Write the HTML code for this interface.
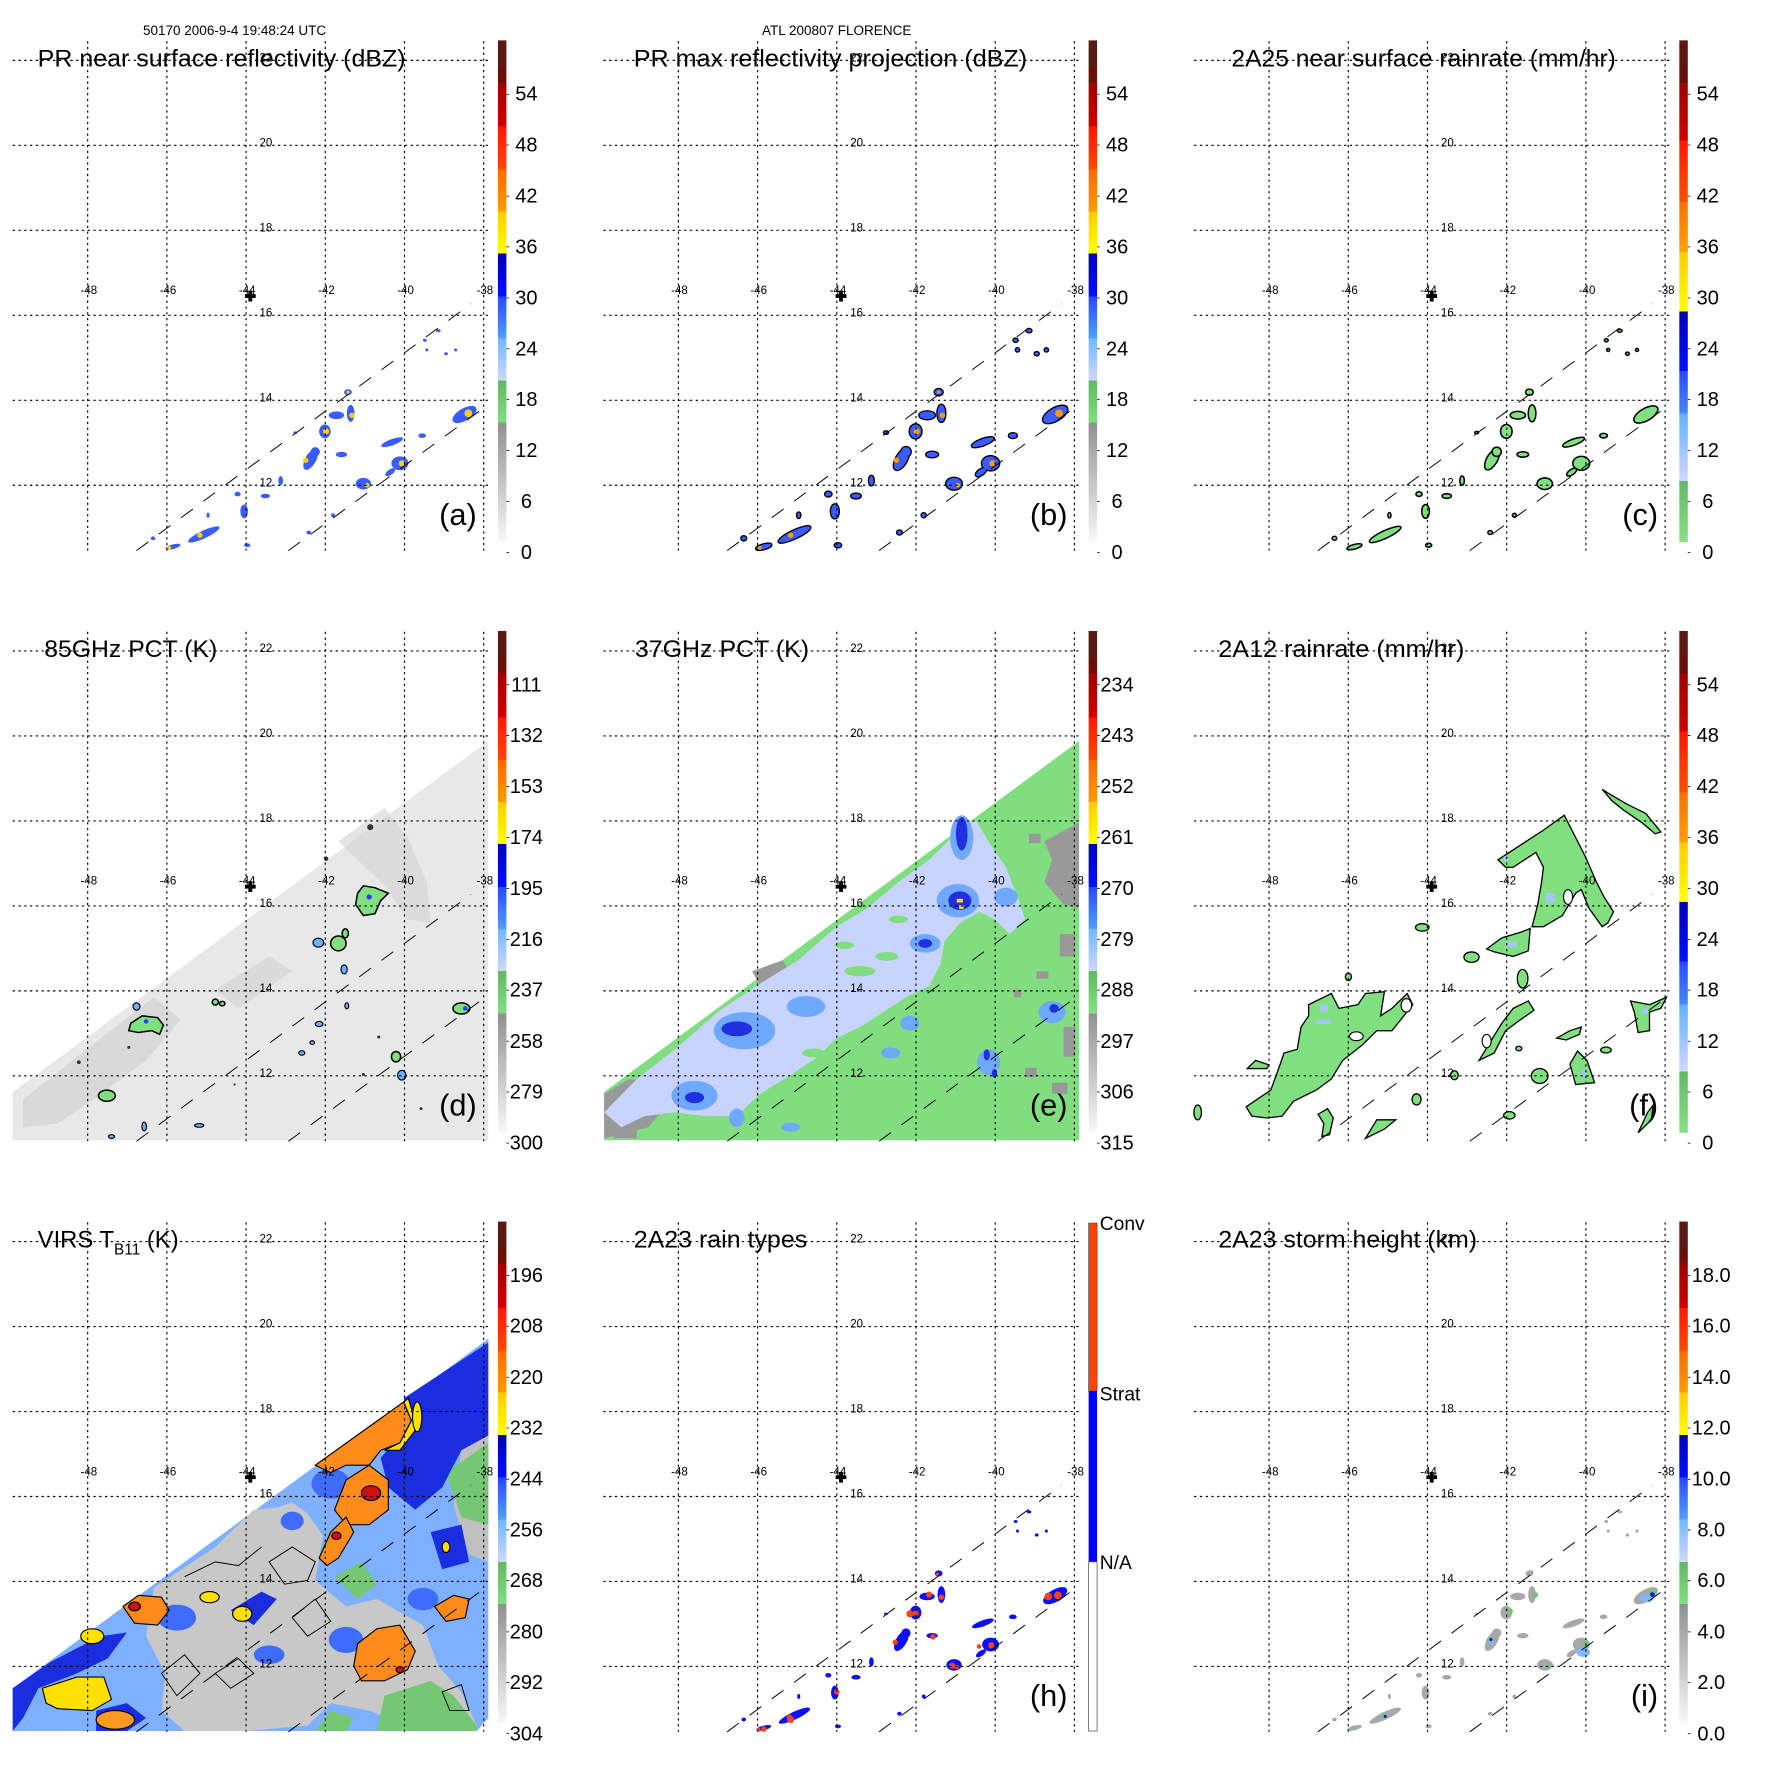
<!DOCTYPE html>
<html><head><meta charset="utf-8"><style>body{margin:0;background:#fff}svg{display:block}text{font-family:"Liberation Sans",Arial,sans-serif}</style></head><body>
<svg width="1771" height="1771" viewBox="0 0 1771 1771" xmlns="http://www.w3.org/2000/svg">
<defs>
<linearGradient id="gA" x1="0" y1="0" x2="0" y2="1">
<stop offset="0" stop-color="#5a1a14"/><stop offset=".054" stop-color="#5a1a14"/><stop offset=".054" stop-color="#6b1008"/><stop offset=".084" stop-color="#6b1008"/>
<stop offset=".084" stop-color="#a00000"/><stop offset=".172" stop-color="#d00000"/><stop offset=".172" stop-color="#ff1800"/><stop offset=".257" stop-color="#ff4800"/>
<stop offset=".257" stop-color="#ff6a00"/><stop offset=".341" stop-color="#ff9a00"/><stop offset=".341" stop-color="#ffcc00"/><stop offset=".425" stop-color="#ffff00"/>
<stop offset=".425" stop-color="#0000b8"/><stop offset=".51" stop-color="#0010ff"/><stop offset=".51" stop-color="#2848ff"/><stop offset=".594" stop-color="#50a0ff"/>
<stop offset=".594" stop-color="#70b8ff"/><stop offset=".678" stop-color="#d0d8ff"/><stop offset=".678" stop-color="#60b860"/><stop offset=".762" stop-color="#80e080"/>
<stop offset=".762" stop-color="#909090"/><stop offset="1" stop-color="#f8f8f8"/>
</linearGradient>
<linearGradient id="gC" x1="0" y1="0" x2="0" y2="1">
<stop offset="0" stop-color="#5a1a14"/><stop offset=".085" stop-color="#6b1008"/><stop offset=".085" stop-color="#a00000"/><stop offset=".2" stop-color="#d00000"/>
<stop offset=".2" stop-color="#ff1800"/><stop offset=".322" stop-color="#ff5000"/><stop offset=".322" stop-color="#ff7000"/><stop offset=".422" stop-color="#ffa000"/>
<stop offset=".422" stop-color="#ffcc00"/><stop offset=".54" stop-color="#ffff00"/><stop offset=".54" stop-color="#0000b8"/><stop offset=".659" stop-color="#0010ff"/>
<stop offset=".659" stop-color="#2848ff"/><stop offset=".744" stop-color="#4488ff"/><stop offset=".744" stop-color="#60b0ff"/><stop offset=".878" stop-color="#d0d8ff"/>
<stop offset=".878" stop-color="#60b860"/><stop offset="1" stop-color="#88e088"/>
</linearGradient>

<g id="grid" fill="none" stroke="#000">
 <g stroke-width="3" stroke-dasharray="6 9">
  <path d="M228 107V1432M434 107V1432M640 107V1432M846 107V1432M1052 107V1432M1258 107V1432"/>
  <path d="M33 157H1270M33 378H1270M33 599H1270M33 820H1270M33 1041H1270M33 1262H1270"/>
 </g>
 <path d="M355 1432L1225 790M750 1432L1270 1052" stroke-width="2.5" stroke-dasharray="38 34"/>
 <path d="M637 770h28M651 756v28" stroke-width="10"/>
 <g fill="#000" stroke="none" font-size="30">
  <text x="675" y="160">22</text><text x="675" y="381">20</text><text x="675" y="602">18</text>
  <text x="675" y="823">16</text><text x="675" y="1044">14</text><text x="675" y="1265">12</text>
  <g text-anchor="middle"><text x="231" y="765">-48</text><text x="437" y="765">-46</text><text x="643" y="765">-44</text>
  <text x="849" y="765">-42</text><text x="1055" y="765">-40</text><text x="1261" y="765">-38</text></g>
 </g>
</g>

<path id="ticks" d="M1317 245h7M1317 377h7M1317 510h7M1317 642h7M1317 775h7M1317 907h7M1317 1039h7M1317 1172h7M1317 1304h7M1317 1437h7" stroke="#000" stroke-width="2"/>

<g id="prc">
<ellipse cx="905" cy="1020" rx="10" ry="8"/>
<ellipse cx="875" cy="1080" rx="20" ry="10"/><ellipse cx="912" cy="1075" rx="10" ry="22"/>
<ellipse cx="845" cy="1122" rx="15" ry="18"/>
<ellipse cx="808" cy="1195" rx="14" ry="30" transform="rotate(30 808 1195)"/><ellipse cx="820" cy="1175" rx="12" ry="12"/>
<ellipse cx="888" cy="1182" rx="15" ry="7"/>
<ellipse cx="1020" cy="1150" rx="30" ry="8" transform="rotate(-20 1020 1150)"/>
<ellipse cx="1040" cy="1205" rx="22" ry="18"/><ellipse cx="1015" cy="1228" rx="15" ry="7" transform="rotate(-35 1015 1228)"/>
<ellipse cx="945" cy="1258" rx="20" ry="15"/>
<ellipse cx="1208" cy="1078" rx="35" ry="16" transform="rotate(-30 1208 1078)"/>
<ellipse cx="1098" cy="1133" rx="10" ry="6"/>
<ellipse cx="730" cy="1250" rx="6" ry="12"/>
<ellipse cx="690" cy="1290" rx="12" ry="6"/>
<ellipse cx="618" cy="1285" rx="8" ry="6"/><ellipse cx="635" cy="1330" rx="10" ry="18"/>
<ellipse cx="530" cy="1390" rx="45" ry="10" transform="rotate(-25 530 1390)"/>
<ellipse cx="450" cy="1422" rx="20" ry="6" transform="rotate(-15 450 1422)"/>
<ellipse cx="398" cy="1400" rx="6" ry="5"/><ellipse cx="643" cy="1418" rx="8" ry="5"/>
<ellipse cx="803" cy="1385" rx="6" ry="5"/><ellipse cx="866" cy="1340" rx="5" ry="5"/>
<ellipse cx="541" cy="1340" rx="4" ry="7"/><ellipse cx="768" cy="1125" rx="5" ry="3"/>
<ellipse cx="1105" cy="885" rx="5" ry="4"/><ellipse cx="1140" cy="860" rx="6" ry="4"/><ellipse cx="1160" cy="920" rx="5" ry="4"/><ellipse cx="1185" cy="910" rx="4" ry="4"/><ellipse cx="1110" cy="910" rx="4" ry="4"/>
</g>
<g id="prsp">
<circle cx="915" cy="1080" r="7"/><circle cx="848" cy="1122" r="8"/><circle cx="795" cy="1197" r="7"/><circle cx="1045" cy="1205" r="8"/>
<circle cx="1218" cy="1075" r="10"/><circle cx="955" cy="1262" r="6"/><circle cx="520" cy="1392" r="7"/><circle cx="440" cy="1425" r="5"/><circle cx="905" cy="1020" r="4"/>
</g>
</defs>

<text x="143" y="35" font-size="13.5">50170 2006-9-4 19:48:24 UTC</text>
<text x="762" y="35" font-size="13.5">ATL 200807 FLORENCE</text>

<!-- panel a -->
<g transform="scale(0.3845)">
 <use href="#prc" fill="#3a5cff"/>
 <use href="#prsp" fill="#ffd000"/>
 <use href="#grid"/>
 <rect x="1295" y="105" width="22" height="1305" fill="url(#gA)"/><use href="#ticks"/>
 <g font-size="52" text-anchor="middle"><text x="1369" y="262">54</text><text x="1369" y="394">48</text><text x="1369" y="527">42</text><text x="1369" y="659">36</text><text x="1369" y="792">30</text><text x="1369" y="924">24</text><text x="1369" y="1056">18</text><text x="1369" y="1189">12</text><text x="1369" y="1321">6</text><text x="1369" y="1454">0</text></g>
 <text x="98" y="173" font-size="62" textLength="957" lengthAdjust="spacingAndGlyphs">PR near surface reflectivity (dBZ)</text>
 <text x="1240" y="1365" font-size="80" text-anchor="end">(a)</text>
</g>

<!-- panel b -->
<g transform="translate(590.7,0) scale(0.3845)">
 <use href="#prc" fill="#3a5cff" stroke="#000" stroke-width="7"/>
 <use href="#prc" fill="#3a5cff"/>
 <use href="#prsp" fill="#ff9a00"/>
 <use href="#grid"/>
 <rect x="1295" y="105" width="22" height="1305" fill="url(#gA)"/><use href="#ticks"/>
 <g font-size="52" text-anchor="middle"><text x="1369" y="262">54</text><text x="1369" y="394">48</text><text x="1369" y="527">42</text><text x="1369" y="659">36</text><text x="1369" y="792">30</text><text x="1369" y="924">24</text><text x="1369" y="1056">18</text><text x="1369" y="1189">12</text><text x="1369" y="1321">6</text><text x="1369" y="1454">0</text></g>
 <text x="112" y="173" font-size="62" textLength="1023" lengthAdjust="spacingAndGlyphs">PR max reflectivity projection (dBZ)</text>
 <text x="1240" y="1365" font-size="80" text-anchor="end">(b)</text>
</g>

<!-- panel c -->
<g transform="translate(1181.4,0) scale(0.3845)">
 <use href="#prc" fill="#80e080" stroke="#000" stroke-width="4"/>
 <use href="#grid"/>
 <rect x="1295" y="105" width="22" height="1305" fill="url(#gC)"/><use href="#ticks"/>
 <g font-size="52" text-anchor="middle"><text x="1369" y="262">54</text><text x="1369" y="394">48</text><text x="1369" y="527">42</text><text x="1369" y="659">36</text><text x="1369" y="792">30</text><text x="1369" y="924">24</text><text x="1369" y="1056">18</text><text x="1369" y="1189">12</text><text x="1369" y="1321">6</text><text x="1369" y="1454">0</text></g>
 <text x="130" y="173" font-size="62" textLength="1000" lengthAdjust="spacingAndGlyphs">2A25 near surface rainrate (mm/hr)</text>
 <text x="1240" y="1365" font-size="80" text-anchor="end">(c)</text>
</g>

<!-- panel d -->
<g transform="translate(0,590.6) scale(0.3845)">
 <g transform="translate(0,24) scale(1,0.966)">
  <polygon points="33,1325 1270,380 1270,1455 33,1455" fill="#e8e8e8"/>
  <polygon points="60,1345 250,1190 400,1070 470,1130 380,1240 250,1340 150,1410 60,1420" fill="#cfcfcf" opacity=".6"/>
  <polygon points="880,650 1000,560 1060,640 1110,760 1120,870 1060,860 1000,770 950,720" fill="#d2d2d2" opacity=".6"/>
  <polygon points="560,1050 700,960 760,1000 620,1100" fill="#dadada"/>
  <g fill="#80e080" stroke="#000" stroke-width="4">
   <path d="M930,790 L945,770 975,775 1010,790 990,810 975,845 945,850 925,820 Z"/>
   <ellipse cx="880" cy="925" rx="20" ry="20"/><ellipse cx="898" cy="898" rx="8" ry="12"/>
   <path d="M340,1140 L370,1120 410,1125 425,1145 415,1170 395,1160 360,1165 335,1160 Z"/>
   <ellipse cx="278" cy="1335" rx="22" ry="15"/><ellipse cx="1030" cy="1230" rx="12" ry="14"/>
   <ellipse cx="1200" cy="1100" rx="22" ry="15"/><ellipse cx="560" cy="1083" rx="8" ry="8"/><ellipse cx="578" cy="1087" rx="7" ry="6"/>
  </g>
  <g fill="#6cb0ff" stroke="#000" stroke-width="3">
   <ellipse cx="828" cy="923" rx="14" ry="12"/><ellipse cx="895" cy="995" rx="8" ry="12"/><ellipse cx="355" cy="1095" rx="9" ry="10"/>
   <ellipse cx="1045" cy="1280" rx="11" ry="13"/><ellipse cx="785" cy="1220" rx="8" ry="6"/><ellipse cx="812" cy="1192" rx="6" ry="5"/>
   <ellipse cx="902" cy="1093" rx="5" ry="8"/><ellipse cx="830" cy="1142" rx="10" ry="7"/><ellipse cx="375" cy="1418" rx="6" ry="12"/>
   <ellipse cx="518" cy="1415" rx="12" ry="5"/><ellipse cx="290" cy="1445" rx="8" ry="5"/>
  </g>
  <g fill="#2a40ff"><circle cx="960" cy="800" r="7"/><circle cx="1210" cy="1100" r="6"/><circle cx="380" cy="1135" r="6"/></g>
  <g fill="#333"><circle cx="963" cy="612" r="8"/><circle cx="848" cy="697" r="6"/><circle cx="205" cy="1245" r="5"/><circle cx="335" cy="1205" r="4"/><circle cx="1095" cy="1370" r="4"/><circle cx="945" cy="1278" r="4"/><circle cx="985" cy="1177" r="4"/><circle cx="610" cy="1305" r="3"/></g>
 </g>
 <use href="#grid"/>
 <rect x="1295" y="105" width="22" height="1305" fill="url(#gA)"/><use href="#ticks"/>
 <g font-size="52" text-anchor="middle"><text x="1369" y="262">111</text><text x="1369" y="394">132</text><text x="1369" y="527">153</text><text x="1369" y="659">174</text><text x="1369" y="792">195</text><text x="1369" y="924">216</text><text x="1369" y="1056">237</text><text x="1369" y="1189">258</text><text x="1369" y="1321">279</text><text x="1369" y="1454">300</text></g>
 <text x="115" y="173" font-size="62" textLength="450" lengthAdjust="spacingAndGlyphs">85GHz PCT (K)</text>
 <text x="1240" y="1365" font-size="80" text-anchor="end">(d)</text>
</g>

<!-- panel e -->
<g transform="translate(590.7,590.6) scale(0.3845)">
 <g transform="translate(0,24) scale(1,0.966)">
  <polygon points="35,1325 1270,380 1270,1455 35,1455" fill="#80dd80"/>
  <g fill="#999">
   <polygon points="1180,650 1270,600 1270,830 1230,820 1180,760 1200,700"/>
   <polygon points="35,1330 100,1290 160,1300 200,1360 150,1420 35,1450"/>
   <polygon points="420,1000 500,970 520,1010 440,1040"/>
   <rect x="1220" y="900" width="40" height="60"/><rect x="1160" y="1000" width="30" height="20"/><rect x="1230" y="1150" width="30" height="80"/>
   <rect x="1130" y="1260" width="30" height="25"/><rect x="1200" y="1300" width="40" height="30"/><rect x="1100" y="1050" width="20" height="20"/>
   <rect x="1140" y="630" width="30" height="25"/><rect x="60" y="1420" width="60" height="30"/>
  </g>
  <path d="M35,1380 L120,1290 220,1210 330,1110 430,1040 540,970 640,880 720,830 800,760 880,700 960,620 1000,590 1040,660 1080,720 1110,800 1130,860 1090,900 1050,860 1010,840 960,870 920,920 910,980 880,1040 820,1070 760,1110 700,1150 640,1180 590,1230 520,1280 440,1330 380,1390 300,1390 220,1380 140,1390 80,1420 Z" fill="#c8d4ff"/>
  <g fill="#80dd80"><ellipse cx="700" cy="1000" rx="40" ry="14"/><ellipse cx="770" cy="960" rx="30" ry="12"/><ellipse cx="580" cy="1220" rx="30" ry="12"/><ellipse cx="660" cy="930" rx="25" ry="10"/><ellipse cx="800" cy="860" rx="25" ry="10"/></g>
  <g fill="#6fa8ff">
   <ellipse cx="400" cy="1160" rx="80" ry="50"/><ellipse cx="270" cy="1335" rx="60" ry="40"/><ellipse cx="560" cy="1095" rx="50" ry="28"/>
   <ellipse cx="965" cy="640" rx="30" ry="60"/><ellipse cx="955" cy="810" rx="55" ry="45"/><ellipse cx="870" cy="925" rx="40" ry="25"/>
   <ellipse cx="1200" cy="1110" rx="35" ry="30"/><ellipse cx="1035" cy="1245" rx="30" ry="35"/><ellipse cx="830" cy="1140" rx="25" ry="20"/>
   <ellipse cx="780" cy="1220" rx="25" ry="15"/><ellipse cx="380" cy="1395" rx="20" ry="25"/><ellipse cx="520" cy="1420" rx="25" ry="12"/><ellipse cx="1080" cy="800" rx="30" ry="25"/>
  </g>
  <g fill="#2030e0">
   <ellipse cx="380" cy="1155" rx="40" ry="20"/><ellipse cx="270" cy="1340" rx="25" ry="15"/><ellipse cx="965" cy="630" rx="15" ry="45"/>
   <ellipse cx="960" cy="810" rx="30" ry="25"/><ellipse cx="870" cy="925" rx="18" ry="12"/><ellipse cx="1205" cy="1100" rx="12" ry="12"/>
   <ellipse cx="1030" cy="1225" rx="8" ry="15"/><ellipse cx="1050" cy="1275" rx="7" ry="12"/>
  </g>
  <g fill="#ffe000"><rect x="952" y="805" width="16" height="10"/><rect x="958" y="822" width="12" height="10"/></g>
 </g>
 <use href="#grid"/>
 <rect x="1295" y="105" width="22" height="1305" fill="url(#gA)"/><use href="#ticks"/>
 <g font-size="52" text-anchor="middle"><text x="1369" y="262">234</text><text x="1369" y="394">243</text><text x="1369" y="527">252</text><text x="1369" y="659">261</text><text x="1369" y="792">270</text><text x="1369" y="924">279</text><text x="1369" y="1056">288</text><text x="1369" y="1189">297</text><text x="1369" y="1321">306</text><text x="1369" y="1454">315</text></g>
 <text x="115" y="173" font-size="62" textLength="453" lengthAdjust="spacingAndGlyphs">37GHz PCT (K)</text>
 <text x="1240" y="1365" font-size="80" text-anchor="end">(e)</text>
</g>

<!-- panel f -->
<g transform="translate(1181.4,590.6) scale(0.3845)">
 <g transform="translate(-4,24) scale(0.985,0.966)">
  <g fill="#80e080" stroke="#000" stroke-width="3.5">
   <path d="M175,1365 L240,1320 265,1250 275,1220 310,1210 320,1150 340,1120 340,1090 400,1060 420,1100 470,1090 490,1060 540,1055 530,1120 560,1100 600,1060 615,1090 560,1160 520,1160 480,1200 430,1240 400,1290 360,1320 300,1350 270,1390 230,1395 190,1390 Z"/>
   <path d="M840,700 L900,660 960,620 1015,580 1040,630 1070,690 1100,760 1120,800 1145,840 1130,870 1115,880 1080,830 1060,780 1045,790 1010,850 960,880 930,880 945,820 955,760 960,720 940,680 910,700 880,720 860,720 Z"/>
   <path d="M810,940 L850,910 900,895 925,885 920,945 880,960 830,948 Z"/>
   <path d="M1115,510 L1130,520 1180,550 1230,575 1250,600 1270,625 1255,630 1220,600 1170,565 1140,540 Z"/>
   <ellipse cx="770" cy="962" rx="20" ry="14"/><ellipse cx="905" cy="1020" rx="14" ry="25"/>
   <path d="M790,1240 L820,1190 850,1140 880,1100 920,1080 935,1105 900,1130 860,1160 830,1220 Z"/>
   <path d="M995,1180 L1030,1160 1060,1150 1055,1170 1020,1185 Z"/>
   <path d="M1030,1250 L1050,1215 1075,1240 1095,1300 1045,1305 Z"/>
   <ellipse cx="950" cy="1282" rx="22" ry="20"/>
   <path d="M1190,1080 L1240,1090 1285,1070 1270,1100 1240,1110 1240,1160 1210,1165 1200,1110 Z"/>
   <path d="M490,1450 L520,1400 570,1400 540,1425 Z"/>
   <path d="M365,1385 L390,1370 405,1395 395,1440 375,1445 380,1410 Z"/>
   <path d="M178,1262 L200,1240 235,1252 230,1262 Z"/>
   <ellipse cx="47" cy="1380" rx="10" ry="20"/><ellipse cx="640" cy="882" rx="18" ry="10"/>
   <path d="M1210,1435 L1235,1380 1250,1360 1245,1400 Z"/>
   <ellipse cx="625" cy="1345" rx="12" ry="15"/><ellipse cx="870" cy="1388" rx="15" ry="10"/><ellipse cx="1125" cy="1212" rx="14" ry="8"/>
   <ellipse cx="445" cy="1015" rx="8" ry="10"/><ellipse cx="725" cy="1280" rx="10" ry="12"/><ellipse cx="895" cy="1208" rx="8" ry="6"/>
  </g>
  <g fill="#fff" stroke="#000" stroke-width="3"><ellipse cx="466" cy="1175" rx="18" ry="12"/><ellipse cx="598" cy="1092" rx="14" ry="18"/><ellipse cx="810" cy="1188" rx="12" ry="18"/><ellipse cx="1025" cy="800" rx="12" ry="20"/></g>
  <g fill="#a8c4ff"><rect x="965" y="790" width="25" height="25"/><rect x="360" y="1130" width="40" height="12"/><rect x="370" y="1090" width="20" height="20"/><rect x="860" y="920" width="30" height="15"/><rect x="1220" y="1100" width="15" height="15"/><rect x="1060" y="1265" width="12" height="20"/><rect x="855" y="690" width="12" height="12"/></g>
 </g>
 <use href="#grid"/>
 <rect x="1295" y="105" width="22" height="1305" fill="url(#gC)"/><use href="#ticks"/>
 <g font-size="52" text-anchor="middle"><text x="1369" y="262">54</text><text x="1369" y="394">48</text><text x="1369" y="527">42</text><text x="1369" y="659">36</text><text x="1369" y="792">30</text><text x="1369" y="924">24</text><text x="1369" y="1056">18</text><text x="1369" y="1189">12</text><text x="1369" y="1321">6</text><text x="1369" y="1454">0</text></g>
 <text x="96" y="173" font-size="62" textLength="640" lengthAdjust="spacingAndGlyphs">2A12 rainrate (mm/hr)</text>
 <text x="1240" y="1365" font-size="80" text-anchor="end">(f)</text>
</g>

<!-- panel g -->
<g transform="translate(0,1181.2) scale(0.3845)">
 <g transform="translate(0,23) scale(1,0.967)">
  <polygon points="33,1340 1270,400 1270,1420 1240,1455 33,1455" fill="#7fb0ff"/>
  <g fill="#c8c8c8">
   <path d="M400,1070 L560,960 680,870 760,840 800,870 840,930 820,1050 900,1120 980,1100 1100,1170 1140,1280 1200,1350 1240,1440 1100,1455 960,1400 860,1380 800,1440 640,1455 480,1455 420,1400 430,1300 380,1200 Z"/>
   <path d="M470,1060 L600,990 700,920 750,850 660,860 560,960 Z"/>
   <path d="M1200,700 L1270,650 1270,1000 1220,980 1180,850 Z" fill="#c0c0c0"/>
  </g>
  <g fill="#74c874">
   <path d="M980,1455 L1000,1360 1120,1320 1180,1360 1240,1440 1240,1455 Z"/>
   <path d="M870,1040 L940,1000 980,1060 930,1100 Z"/><path d="M1160,760 L1270,680 1270,900 1200,880 Z"/>
   <path d="M820,1455 L860,1400 920,1420 900,1455 Z"/>
  </g>
  <g fill="#1a2ee0">
   <path d="M1050,560 L1270,410 1270,660 1200,700 1150,800 1080,860 1010,800 990,720 1060,640 Z"/>
   <path d="M33,1340 L130,1270 260,1200 330,1190 280,1260 200,1300 100,1340 60,1420 33,1455 Z"/>
   <path d="M600,1130 L680,1080 720,1100 660,1170 Z"/><path d="M250,1400 L330,1380 380,1420 330,1455 250,1455 Z"/>
   <path d="M1120,920 L1200,900 1220,1000 1150,1020 Z"/>
  </g>
  <g fill="#3e6cff"><ellipse cx="860" cy="790" rx="50" ry="40"/><ellipse cx="760" cy="890" rx="30" ry="25"/><ellipse cx="460" cy="1150" rx="50" ry="35"/><ellipse cx="900" cy="1210" rx="45" ry="35"/><ellipse cx="1100" cy="1100" rx="40" ry="30"/><ellipse cx="700" cy="1250" rx="40" ry="25"/></g>
  <g stroke="#000" stroke-width="3">
   <path d="M820,740 L1050,570 1070,620 1040,680 990,700 960,740 900,740 860,760 Z" fill="#ff8c1a"/>
   <path d="M1050,570 L1062,560 1085,640 1040,700 1000,700 1040,680 1070,620 Z" fill="#ffe000"/>
   <path d="M900,780 L960,740 1010,780 1010,860 960,900 900,900 870,860 Z" fill="#ff8c1a"/>
   <path d="M830,990 L860,920 900,880 920,920 880,990 850,1010 Z" fill="#ff8c1a"/>
   <path d="M930,1220 L980,1180 1040,1170 1080,1240 1060,1290 1000,1320 940,1320 920,1280 Z" fill="#ff8c1a"/>
   <path d="M320,1120 L360,1090 420,1095 440,1130 410,1170 350,1165 Z" fill="#ff8c1a"/>
   <path d="M1130,1120 L1180,1090 1220,1100 1210,1150 1160,1160 Z" fill="#ff8c1a"/>
   <path d="M110,1340 L200,1310 270,1310 290,1370 240,1400 150,1395 120,1380 Z" fill="#ffe000"/>
   <ellipse cx="240" cy="1200" rx="30" ry="20" fill="#ffe000"/><ellipse cx="545" cy="1095" rx="25" ry="15" fill="#ffe000"/>
   <ellipse cx="630" cy="1140" rx="25" ry="20" fill="#ffe000"/><ellipse cx="1160" cy="960" rx="10" ry="15" fill="#ffe000"/>
   <ellipse cx="300" cy="1425" rx="50" ry="25" fill="#ff9a20"/><ellipse cx="1085" cy="610" rx="12" ry="40" fill="#ffe000"/>
   <ellipse cx="965" cy="815" rx="25" ry="20" fill="#d01010"/><ellipse cx="350" cy="1120" rx="15" ry="12" fill="#d01010"/>
   <ellipse cx="875" cy="930" rx="12" ry="10" fill="#d01010"/><ellipse cx="1040" cy="1290" rx="10" ry="8" fill="#d01010"/>
  </g>
  <g fill="none" stroke="#000" stroke-width="2.5">
   <path d="M480,1040 L560,1000 620,1010 680,960"/><path d="M700,1000 L760,960 820,1000 800,1050 740,1060 Z"/>
   <path d="M560,1300 L620,1260 660,1300 600,1340 Z"/><path d="M760,1150 L820,1100 860,1160 800,1200 Z"/>
   <path d="M420,1300 L480,1250 520,1300 460,1360 Z"/><path d="M1150,1350 L1200,1330 1220,1400 1170,1400 Z"/>
  </g>
 </g>
 <use href="#grid"/>
 <rect x="1295" y="105" width="22" height="1305" fill="url(#gA)"/><use href="#ticks"/>
 <g font-size="52" text-anchor="middle"><text x="1369" y="262">196</text><text x="1369" y="394">208</text><text x="1369" y="527">220</text><text x="1369" y="659">232</text><text x="1369" y="792">244</text><text x="1369" y="924">256</text><text x="1369" y="1056">268</text><text x="1369" y="1189">280</text><text x="1369" y="1321">292</text><text x="1369" y="1454">304</text></g>
 <text x="98" y="173" font-size="62">VIRS T<tspan font-size="40" dy="18">B11</tspan><tspan dy="-18"> (K)</tspan></text>
</g>

<!-- panel h -->
<g transform="translate(590.7,1181.2) scale(0.3845)">
 <use href="#prc" fill="#0a10ff"/>
 <use href="#prsp" fill="#ff4010" transform="translate(-3,2)"/>
 <g fill="#ff4010"><circle cx="880" cy="1075" r="8"/><circle cx="830" cy="1125" r="9"/><circle cx="1190" cy="1080" r="10"/><circle cx="450" cy="1425" r="7"/><circle cx="520" cy="1400" r="9"/><circle cx="940" cy="1260" r="8"/><circle cx="1010" cy="1210" r="6"/><circle cx="640" cy="1328" r="7"/><circle cx="890" cy="1185" r="7"/></g>
 <use href="#grid"/>
 <rect x="1295" y="109" width="22" height="437" fill="#ff4300" stroke="#555" stroke-width="2"/>
 <rect x="1295" y="546" width="22" height="444" fill="#0000ff"/>
 <rect x="1295" y="990" width="22" height="440" fill="#fff" stroke="#555" stroke-width="2"/>
 <g font-size="50"><text x="1324" y="127">Conv</text><text x="1324" y="570">Strat</text><text x="1324" y="1009">N/A</text></g>
 <text x="112" y="173" font-size="62" textLength="451" lengthAdjust="spacingAndGlyphs">2A23 rain types</text>
 <text x="1240" y="1365" font-size="80" text-anchor="end">(h)</text>
</g>

<!-- panel i -->
<g transform="translate(1181.4,1181.2) scale(0.3845)">
 <use href="#prc" fill="#a8a8a8"/>
 <use href="#prsp" fill="#74c874" transform="translate(6,-4)"/>
 <g fill="#80b8ff"><ellipse cx="1045" cy="1225" rx="18" ry="12"/><ellipse cx="1210" cy="1085" rx="18" ry="10"/><circle cx="805" cy="1200" r="6"/></g>
 <g fill="#0018ff"><circle cx="1225" cy="1075" r="6"/><circle cx="805" cy="1192" r="4"/><circle cx="530" cy="1392" r="4"/></g>
 <use href="#grid"/>
 <rect x="1295" y="105" width="22" height="1305" fill="url(#gA)"/><use href="#ticks"/>
 <g font-size="52" text-anchor="middle"><text x="1378" y="262">18.0</text><text x="1378" y="394">16.0</text><text x="1378" y="527">14.0</text><text x="1378" y="659">12.0</text><text x="1378" y="792">10.0</text><text x="1378" y="924">8.0</text><text x="1378" y="1056">6.0</text><text x="1378" y="1189">4.0</text><text x="1378" y="1321">2.0</text><text x="1378" y="1454">0.0</text></g>
 <text x="96" y="173" font-size="62" textLength="673" lengthAdjust="spacingAndGlyphs">2A23 storm height (km)</text>
 <text x="1240" y="1365" font-size="80" text-anchor="end">(i)</text>
</g>
</svg>
</body></html>
